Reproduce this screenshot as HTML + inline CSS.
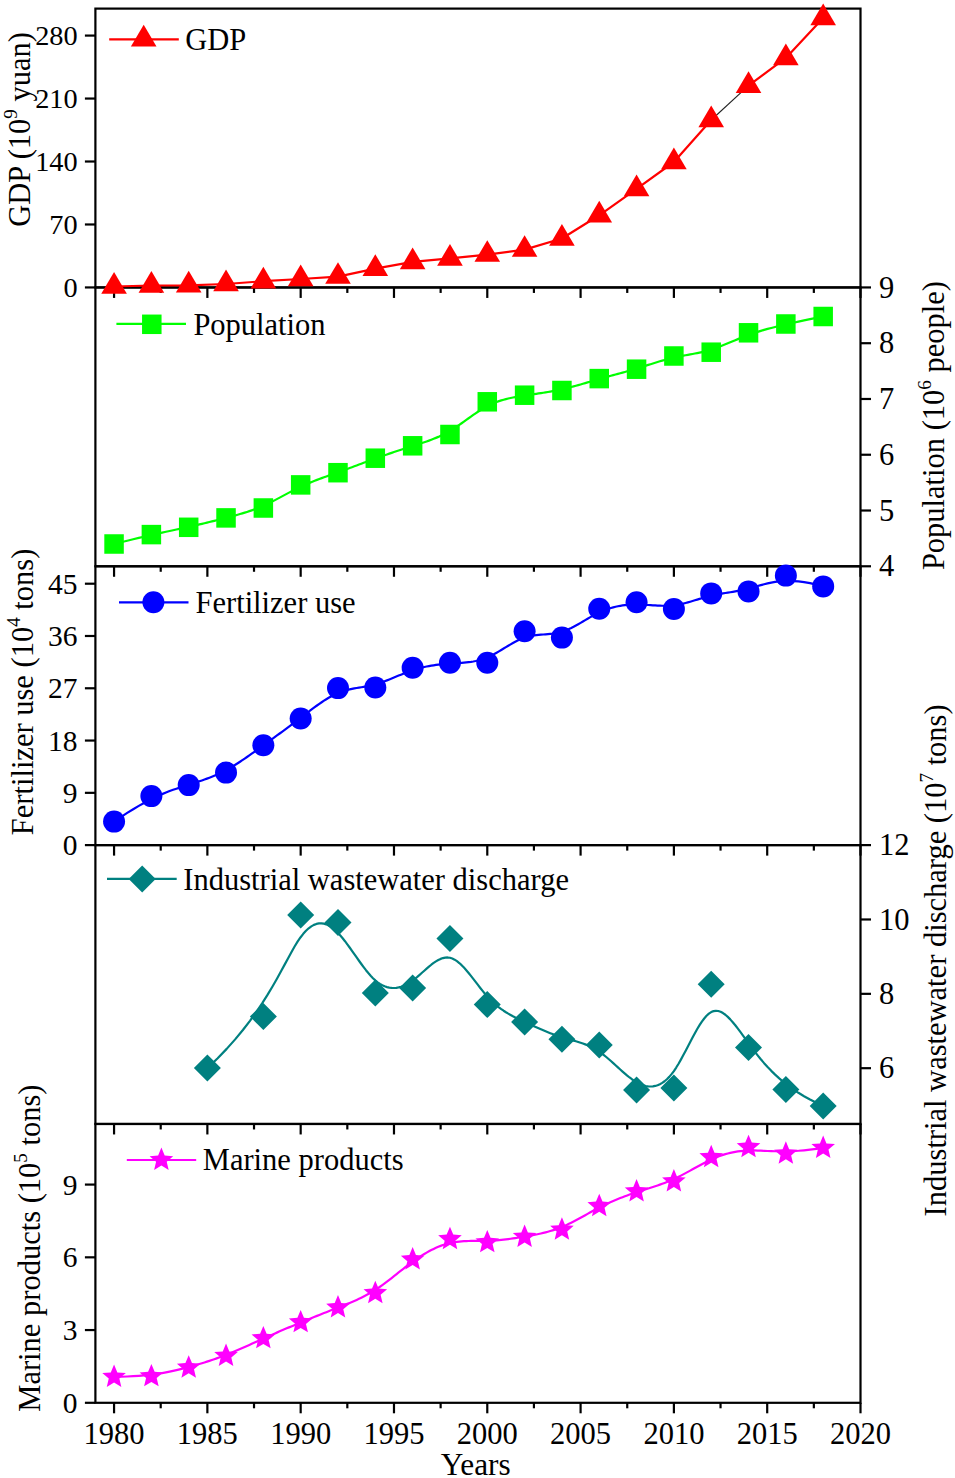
<!DOCTYPE html><html><head><meta charset="utf-8"><style>html,body{margin:0;padding:0;background:#fff;}svg{display:block;}text{font-family:"Liberation Serif", serif;}</style></head><body>
<svg width="955" height="1478" viewBox="0 0 955 1478">
<rect width="955" height="1478" fill="#fff"/>
<rect x="95.40" y="8.60" width="765.10" height="278.84" fill="none" stroke="#000" stroke-width="2.20"/>
<line x1="114.06" y1="287.44" x2="114.06" y2="297.94" stroke="#000" stroke-width="2.20"/>
<line x1="207.37" y1="287.44" x2="207.37" y2="297.94" stroke="#000" stroke-width="2.20"/>
<line x1="300.67" y1="287.44" x2="300.67" y2="297.94" stroke="#000" stroke-width="2.20"/>
<line x1="393.98" y1="287.44" x2="393.98" y2="297.94" stroke="#000" stroke-width="2.20"/>
<line x1="487.28" y1="287.44" x2="487.28" y2="297.94" stroke="#000" stroke-width="2.20"/>
<line x1="580.59" y1="287.44" x2="580.59" y2="297.94" stroke="#000" stroke-width="2.20"/>
<line x1="673.89" y1="287.44" x2="673.89" y2="297.94" stroke="#000" stroke-width="2.20"/>
<line x1="767.20" y1="287.44" x2="767.20" y2="297.94" stroke="#000" stroke-width="2.20"/>
<line x1="860.50" y1="287.44" x2="860.50" y2="297.94" stroke="#000" stroke-width="2.20"/>
<line x1="160.71" y1="287.44" x2="160.71" y2="292.94" stroke="#000" stroke-width="2.20"/>
<line x1="254.02" y1="287.44" x2="254.02" y2="292.94" stroke="#000" stroke-width="2.20"/>
<line x1="347.32" y1="287.44" x2="347.32" y2="292.94" stroke="#000" stroke-width="2.20"/>
<line x1="440.63" y1="287.44" x2="440.63" y2="292.94" stroke="#000" stroke-width="2.20"/>
<line x1="533.93" y1="287.44" x2="533.93" y2="292.94" stroke="#000" stroke-width="2.20"/>
<line x1="627.24" y1="287.44" x2="627.24" y2="292.94" stroke="#000" stroke-width="2.20"/>
<line x1="720.54" y1="287.44" x2="720.54" y2="292.94" stroke="#000" stroke-width="2.20"/>
<line x1="813.85" y1="287.44" x2="813.85" y2="292.94" stroke="#000" stroke-width="2.20"/>
<rect x="95.40" y="287.44" width="765.10" height="278.84" fill="none" stroke="#000" stroke-width="2.20"/>
<line x1="114.06" y1="566.28" x2="114.06" y2="576.78" stroke="#000" stroke-width="2.20"/>
<line x1="207.37" y1="566.28" x2="207.37" y2="576.78" stroke="#000" stroke-width="2.20"/>
<line x1="300.67" y1="566.28" x2="300.67" y2="576.78" stroke="#000" stroke-width="2.20"/>
<line x1="393.98" y1="566.28" x2="393.98" y2="576.78" stroke="#000" stroke-width="2.20"/>
<line x1="487.28" y1="566.28" x2="487.28" y2="576.78" stroke="#000" stroke-width="2.20"/>
<line x1="580.59" y1="566.28" x2="580.59" y2="576.78" stroke="#000" stroke-width="2.20"/>
<line x1="673.89" y1="566.28" x2="673.89" y2="576.78" stroke="#000" stroke-width="2.20"/>
<line x1="767.20" y1="566.28" x2="767.20" y2="576.78" stroke="#000" stroke-width="2.20"/>
<line x1="860.50" y1="566.28" x2="860.50" y2="576.78" stroke="#000" stroke-width="2.20"/>
<line x1="160.71" y1="566.28" x2="160.71" y2="571.78" stroke="#000" stroke-width="2.20"/>
<line x1="254.02" y1="566.28" x2="254.02" y2="571.78" stroke="#000" stroke-width="2.20"/>
<line x1="347.32" y1="566.28" x2="347.32" y2="571.78" stroke="#000" stroke-width="2.20"/>
<line x1="440.63" y1="566.28" x2="440.63" y2="571.78" stroke="#000" stroke-width="2.20"/>
<line x1="533.93" y1="566.28" x2="533.93" y2="571.78" stroke="#000" stroke-width="2.20"/>
<line x1="627.24" y1="566.28" x2="627.24" y2="571.78" stroke="#000" stroke-width="2.20"/>
<line x1="720.54" y1="566.28" x2="720.54" y2="571.78" stroke="#000" stroke-width="2.20"/>
<line x1="813.85" y1="566.28" x2="813.85" y2="571.78" stroke="#000" stroke-width="2.20"/>
<rect x="95.40" y="566.28" width="765.10" height="278.84" fill="none" stroke="#000" stroke-width="2.20"/>
<line x1="114.06" y1="845.12" x2="114.06" y2="855.62" stroke="#000" stroke-width="2.20"/>
<line x1="207.37" y1="845.12" x2="207.37" y2="855.62" stroke="#000" stroke-width="2.20"/>
<line x1="300.67" y1="845.12" x2="300.67" y2="855.62" stroke="#000" stroke-width="2.20"/>
<line x1="393.98" y1="845.12" x2="393.98" y2="855.62" stroke="#000" stroke-width="2.20"/>
<line x1="487.28" y1="845.12" x2="487.28" y2="855.62" stroke="#000" stroke-width="2.20"/>
<line x1="580.59" y1="845.12" x2="580.59" y2="855.62" stroke="#000" stroke-width="2.20"/>
<line x1="673.89" y1="845.12" x2="673.89" y2="855.62" stroke="#000" stroke-width="2.20"/>
<line x1="767.20" y1="845.12" x2="767.20" y2="855.62" stroke="#000" stroke-width="2.20"/>
<line x1="860.50" y1="845.12" x2="860.50" y2="855.62" stroke="#000" stroke-width="2.20"/>
<line x1="160.71" y1="845.12" x2="160.71" y2="850.62" stroke="#000" stroke-width="2.20"/>
<line x1="254.02" y1="845.12" x2="254.02" y2="850.62" stroke="#000" stroke-width="2.20"/>
<line x1="347.32" y1="845.12" x2="347.32" y2="850.62" stroke="#000" stroke-width="2.20"/>
<line x1="440.63" y1="845.12" x2="440.63" y2="850.62" stroke="#000" stroke-width="2.20"/>
<line x1="533.93" y1="845.12" x2="533.93" y2="850.62" stroke="#000" stroke-width="2.20"/>
<line x1="627.24" y1="845.12" x2="627.24" y2="850.62" stroke="#000" stroke-width="2.20"/>
<line x1="720.54" y1="845.12" x2="720.54" y2="850.62" stroke="#000" stroke-width="2.20"/>
<line x1="813.85" y1="845.12" x2="813.85" y2="850.62" stroke="#000" stroke-width="2.20"/>
<rect x="95.40" y="845.12" width="765.10" height="278.84" fill="none" stroke="#000" stroke-width="2.20"/>
<line x1="114.06" y1="1123.96" x2="114.06" y2="1134.46" stroke="#000" stroke-width="2.20"/>
<line x1="207.37" y1="1123.96" x2="207.37" y2="1134.46" stroke="#000" stroke-width="2.20"/>
<line x1="300.67" y1="1123.96" x2="300.67" y2="1134.46" stroke="#000" stroke-width="2.20"/>
<line x1="393.98" y1="1123.96" x2="393.98" y2="1134.46" stroke="#000" stroke-width="2.20"/>
<line x1="487.28" y1="1123.96" x2="487.28" y2="1134.46" stroke="#000" stroke-width="2.20"/>
<line x1="580.59" y1="1123.96" x2="580.59" y2="1134.46" stroke="#000" stroke-width="2.20"/>
<line x1="673.89" y1="1123.96" x2="673.89" y2="1134.46" stroke="#000" stroke-width="2.20"/>
<line x1="767.20" y1="1123.96" x2="767.20" y2="1134.46" stroke="#000" stroke-width="2.20"/>
<line x1="860.50" y1="1123.96" x2="860.50" y2="1134.46" stroke="#000" stroke-width="2.20"/>
<line x1="160.71" y1="1123.96" x2="160.71" y2="1129.46" stroke="#000" stroke-width="2.20"/>
<line x1="254.02" y1="1123.96" x2="254.02" y2="1129.46" stroke="#000" stroke-width="2.20"/>
<line x1="347.32" y1="1123.96" x2="347.32" y2="1129.46" stroke="#000" stroke-width="2.20"/>
<line x1="440.63" y1="1123.96" x2="440.63" y2="1129.46" stroke="#000" stroke-width="2.20"/>
<line x1="533.93" y1="1123.96" x2="533.93" y2="1129.46" stroke="#000" stroke-width="2.20"/>
<line x1="627.24" y1="1123.96" x2="627.24" y2="1129.46" stroke="#000" stroke-width="2.20"/>
<line x1="720.54" y1="1123.96" x2="720.54" y2="1129.46" stroke="#000" stroke-width="2.20"/>
<line x1="813.85" y1="1123.96" x2="813.85" y2="1129.46" stroke="#000" stroke-width="2.20"/>
<rect x="95.40" y="1123.96" width="765.10" height="278.84" fill="none" stroke="#000" stroke-width="2.20"/>
<line x1="114.06" y1="1402.80" x2="114.06" y2="1413.30" stroke="#000" stroke-width="2.20"/>
<line x1="207.37" y1="1402.80" x2="207.37" y2="1413.30" stroke="#000" stroke-width="2.20"/>
<line x1="300.67" y1="1402.80" x2="300.67" y2="1413.30" stroke="#000" stroke-width="2.20"/>
<line x1="393.98" y1="1402.80" x2="393.98" y2="1413.30" stroke="#000" stroke-width="2.20"/>
<line x1="487.28" y1="1402.80" x2="487.28" y2="1413.30" stroke="#000" stroke-width="2.20"/>
<line x1="580.59" y1="1402.80" x2="580.59" y2="1413.30" stroke="#000" stroke-width="2.20"/>
<line x1="673.89" y1="1402.80" x2="673.89" y2="1413.30" stroke="#000" stroke-width="2.20"/>
<line x1="767.20" y1="1402.80" x2="767.20" y2="1413.30" stroke="#000" stroke-width="2.20"/>
<line x1="860.50" y1="1402.80" x2="860.50" y2="1413.30" stroke="#000" stroke-width="2.20"/>
<line x1="160.71" y1="1402.80" x2="160.71" y2="1408.30" stroke="#000" stroke-width="2.20"/>
<line x1="254.02" y1="1402.80" x2="254.02" y2="1408.30" stroke="#000" stroke-width="2.20"/>
<line x1="347.32" y1="1402.80" x2="347.32" y2="1408.30" stroke="#000" stroke-width="2.20"/>
<line x1="440.63" y1="1402.80" x2="440.63" y2="1408.30" stroke="#000" stroke-width="2.20"/>
<line x1="533.93" y1="1402.80" x2="533.93" y2="1408.30" stroke="#000" stroke-width="2.20"/>
<line x1="627.24" y1="1402.80" x2="627.24" y2="1408.30" stroke="#000" stroke-width="2.20"/>
<line x1="720.54" y1="1402.80" x2="720.54" y2="1408.30" stroke="#000" stroke-width="2.20"/>
<line x1="813.85" y1="1402.80" x2="813.85" y2="1408.30" stroke="#000" stroke-width="2.20"/>
<line x1="84.90" y1="287.44" x2="95.40" y2="287.44" stroke="#000" stroke-width="2.20"/>
<text x="77.6" y="297.04" font-size="28.3" text-anchor="end">0</text>
<line x1="84.90" y1="224.48" x2="95.40" y2="224.48" stroke="#000" stroke-width="2.20"/>
<text x="77.6" y="234.08" font-size="28.3" text-anchor="end">70</text>
<line x1="84.90" y1="161.51" x2="95.40" y2="161.51" stroke="#000" stroke-width="2.20"/>
<text x="77.6" y="171.11" font-size="28.3" text-anchor="end">140</text>
<line x1="84.90" y1="98.55" x2="95.40" y2="98.55" stroke="#000" stroke-width="2.20"/>
<text x="77.6" y="108.15" font-size="28.3" text-anchor="end">210</text>
<line x1="84.90" y1="35.58" x2="95.40" y2="35.58" stroke="#000" stroke-width="2.20"/>
<text x="77.6" y="45.18" font-size="28.3" text-anchor="end">280</text>
<line x1="860.50" y1="566.28" x2="871.00" y2="566.28" stroke="#000" stroke-width="2.20"/>
<text x="879" y="576.38" font-size="30.5" text-anchor="start">4</text>
<line x1="860.50" y1="510.51" x2="871.00" y2="510.51" stroke="#000" stroke-width="2.20"/>
<text x="879" y="520.61" font-size="30.5" text-anchor="start">5</text>
<line x1="860.50" y1="454.74" x2="871.00" y2="454.74" stroke="#000" stroke-width="2.20"/>
<text x="879" y="464.84" font-size="30.5" text-anchor="start">6</text>
<line x1="860.50" y1="398.98" x2="871.00" y2="398.98" stroke="#000" stroke-width="2.20"/>
<text x="879" y="409.08" font-size="30.5" text-anchor="start">7</text>
<line x1="860.50" y1="343.21" x2="871.00" y2="343.21" stroke="#000" stroke-width="2.20"/>
<text x="879" y="353.31" font-size="30.5" text-anchor="start">8</text>
<line x1="860.50" y1="287.44" x2="871.00" y2="287.44" stroke="#000" stroke-width="2.20"/>
<text x="879" y="297.54" font-size="30.5" text-anchor="start">9</text>
<line x1="84.90" y1="845.12" x2="95.40" y2="845.12" stroke="#000" stroke-width="2.20"/>
<text x="77.6" y="855.12" font-size="29.5" text-anchor="end">0</text>
<line x1="84.90" y1="792.84" x2="95.40" y2="792.84" stroke="#000" stroke-width="2.20"/>
<text x="77.6" y="802.84" font-size="29.5" text-anchor="end">9</text>
<line x1="84.90" y1="740.55" x2="95.40" y2="740.55" stroke="#000" stroke-width="2.20"/>
<text x="77.6" y="750.55" font-size="29.5" text-anchor="end">18</text>
<line x1="84.90" y1="688.27" x2="95.40" y2="688.27" stroke="#000" stroke-width="2.20"/>
<text x="77.6" y="698.27" font-size="29.5" text-anchor="end">27</text>
<line x1="84.90" y1="635.99" x2="95.40" y2="635.99" stroke="#000" stroke-width="2.20"/>
<text x="77.6" y="645.99" font-size="29.5" text-anchor="end">36</text>
<line x1="84.90" y1="583.71" x2="95.40" y2="583.71" stroke="#000" stroke-width="2.20"/>
<text x="77.6" y="593.71" font-size="29.5" text-anchor="end">45</text>
<line x1="860.50" y1="1068.19" x2="871.00" y2="1068.19" stroke="#000" stroke-width="2.20"/>
<text x="879" y="1078.29" font-size="30.5" text-anchor="start">6</text>
<line x1="860.50" y1="993.83" x2="871.00" y2="993.83" stroke="#000" stroke-width="2.20"/>
<text x="879" y="1003.93" font-size="30.5" text-anchor="start">8</text>
<line x1="860.50" y1="919.48" x2="871.00" y2="919.48" stroke="#000" stroke-width="2.20"/>
<text x="879" y="929.58" font-size="30.5" text-anchor="start">10</text>
<line x1="860.50" y1="845.12" x2="871.00" y2="845.12" stroke="#000" stroke-width="2.20"/>
<text x="879" y="855.22" font-size="30.5" text-anchor="start">12</text>
<line x1="84.90" y1="1402.80" x2="95.40" y2="1402.80" stroke="#000" stroke-width="2.20"/>
<text x="77.6" y="1412.80" font-size="29.5" text-anchor="end">0</text>
<line x1="84.90" y1="1330.06" x2="95.40" y2="1330.06" stroke="#000" stroke-width="2.20"/>
<text x="77.6" y="1340.06" font-size="29.5" text-anchor="end">3</text>
<line x1="84.90" y1="1257.32" x2="95.40" y2="1257.32" stroke="#000" stroke-width="2.20"/>
<text x="77.6" y="1267.32" font-size="29.5" text-anchor="end">6</text>
<line x1="84.90" y1="1184.58" x2="95.40" y2="1184.58" stroke="#000" stroke-width="2.20"/>
<text x="77.6" y="1194.58" font-size="29.5" text-anchor="end">9</text>
<text x="114.06" y="1444" font-size="30.5" text-anchor="middle">1980</text>
<text x="207.37" y="1444" font-size="30.5" text-anchor="middle">1985</text>
<text x="300.67" y="1444" font-size="30.5" text-anchor="middle">1990</text>
<text x="393.98" y="1444" font-size="30.5" text-anchor="middle">1995</text>
<text x="487.28" y="1444" font-size="30.5" text-anchor="middle">2000</text>
<text x="580.59" y="1444" font-size="30.5" text-anchor="middle">2005</text>
<text x="673.89" y="1444" font-size="30.5" text-anchor="middle">2010</text>
<text x="767.20" y="1444" font-size="30.5" text-anchor="middle">2015</text>
<text x="860.50" y="1444" font-size="30.5" text-anchor="middle">2020</text>
<text x="475.8" y="1475" font-size="31.3" text-anchor="middle">Years</text>
<text transform="translate(30.00,226.80) rotate(-90)" font-size="30.5">GDP (10<tspan font-size="19" dy="-13">9</tspan><tspan dy="13"> yuan)</tspan></text>
<text transform="translate(944.00,570.10) rotate(-90)" font-size="30.5">Population (10<tspan font-size="19" dy="-13">6</tspan><tspan dy="13"> people)</tspan></text>
<text transform="translate(32.70,835.20) rotate(-90)" font-size="30.5">Fertilizer use (10<tspan font-size="19" dy="-13">4</tspan><tspan dy="13"> tons)</tspan></text>
<text transform="translate(946.00,1216.40) rotate(-90)" font-size="30.5">Industrial wastewater discharge (10<tspan font-size="19" dy="-13">7</tspan><tspan dy="13"> tons)</tspan></text>
<text transform="translate(40.30,1411.70) rotate(-90)" font-size="30.5">Marine products (10<tspan font-size="19" dy="-13">5</tspan><tspan dy="13"> tons)</tspan></text>
<path d="M114.06,286.50 L151.38,285.50 L188.70,285.30 L226.03,284.00 L263.35,281.20 L300.67,279.00 L337.99,276.60 L375.31,268.70 L412.64,261.90 L449.96,258.40 L487.28,254.60 L524.60,249.60 L561.92,238.50 L599.25,215.30 L636.57,188.90 L673.89,162.00 L711.21,120.00" fill="none" stroke="#ff0000" stroke-width="2.20" stroke-linejoin="round"/>
<path d="M748.53,85.70 L785.86,57.90 L823.18,18.00" fill="none" stroke="#ff0000" stroke-width="2.20" stroke-linejoin="round"/>
<line x1="711.21" y1="120.00" x2="748.53" y2="85.70" stroke="#222" stroke-width="1.1"/>
<path d="M114.06,272.03 L126.86,293.73 L101.26,293.73 Z" fill="#ff0000"/>
<path d="M151.38,271.03 L164.18,292.73 L138.58,292.73 Z" fill="#ff0000"/>
<path d="M188.70,270.83 L201.50,292.53 L175.90,292.53 Z" fill="#ff0000"/>
<path d="M226.03,269.53 L238.83,291.23 L213.23,291.23 Z" fill="#ff0000"/>
<path d="M263.35,266.73 L276.15,288.43 L250.55,288.43 Z" fill="#ff0000"/>
<path d="M300.67,264.53 L313.47,286.23 L287.87,286.23 Z" fill="#ff0000"/>
<path d="M337.99,262.13 L350.79,283.83 L325.19,283.83 Z" fill="#ff0000"/>
<path d="M375.31,254.23 L388.11,275.93 L362.51,275.93 Z" fill="#ff0000"/>
<path d="M412.64,247.43 L425.44,269.13 L399.84,269.13 Z" fill="#ff0000"/>
<path d="M449.96,243.93 L462.76,265.63 L437.16,265.63 Z" fill="#ff0000"/>
<path d="M487.28,240.13 L500.08,261.83 L474.48,261.83 Z" fill="#ff0000"/>
<path d="M524.60,235.13 L537.40,256.83 L511.80,256.83 Z" fill="#ff0000"/>
<path d="M561.92,224.03 L574.72,245.73 L549.12,245.73 Z" fill="#ff0000"/>
<path d="M599.25,200.83 L612.05,222.53 L586.45,222.53 Z" fill="#ff0000"/>
<path d="M636.57,174.43 L649.37,196.13 L623.77,196.13 Z" fill="#ff0000"/>
<path d="M673.89,147.53 L686.69,169.23 L661.09,169.23 Z" fill="#ff0000"/>
<path d="M711.21,105.53 L724.01,127.23 L698.41,127.23 Z" fill="#ff0000"/>
<path d="M748.53,71.23 L761.33,92.93 L735.73,92.93 Z" fill="#ff0000"/>
<path d="M785.86,43.43 L798.66,65.13 L773.06,65.13 Z" fill="#ff0000"/>
<path d="M823.18,3.53 L835.98,25.23 L810.38,25.23 Z" fill="#ff0000"/>
<path d="M114.06,544.00 L120.84,542.30 L127.21,540.73 L133.19,539.28 L138.80,537.94 L144.06,536.70 L149.00,535.56 L153.63,534.50 L157.99,533.53 L162.10,532.62 L165.97,531.77 L169.63,530.98 L173.11,530.24 L176.42,529.53 L179.59,528.85 L182.64,528.20 L185.59,527.56 L188.47,526.93 L191.29,526.30 L194.03,525.68 L196.72,525.06 L199.36,524.44 L201.94,523.83 L204.48,523.23 L206.98,522.62 L209.44,522.02 L211.87,521.42 L214.27,520.82 L216.65,520.22 L219.01,519.62 L221.36,519.02 L223.69,518.42 L226.03,517.82 L228.36,517.21 L230.69,516.60 L233.02,515.98 L235.36,515.36 L237.69,514.71 L240.02,514.05 L242.36,513.37 L244.69,512.66 L247.02,511.93 L249.35,511.17 L251.69,510.38 L254.02,509.55 L256.35,508.68 L258.68,507.76 L261.02,506.81 L263.35,505.80 L265.68,504.74 L268.01,503.64 L270.35,502.50 L272.68,501.33 L275.01,500.12 L277.34,498.90 L279.68,497.65 L282.01,496.40 L284.34,495.15 L286.67,493.89 L289.01,492.64 L291.34,491.41 L293.67,490.19 L296.01,489.00 L298.34,487.84 L300.67,486.72 L303.00,485.63 L305.34,484.59 L307.67,483.58 L310.00,482.61 L312.33,481.67 L314.67,480.75 L317.00,479.85 L319.33,478.98 L321.66,478.12 L324.00,477.28 L326.33,476.44 L328.66,475.62 L330.99,474.79 L333.33,473.97 L335.66,473.15 L337.99,472.32 L340.33,471.48 L342.66,470.63 L344.99,469.78 L347.32,468.92 L349.66,468.05 L351.99,467.19 L354.32,466.32 L356.65,465.45 L358.99,464.57 L361.32,463.70 L363.65,462.83 L365.98,461.97 L368.32,461.10 L370.65,460.25 L372.98,459.39 L375.31,458.55 L377.65,457.71 L379.98,456.88 L382.31,456.06 L384.65,455.25 L386.98,454.44 L389.31,453.65 L391.64,452.85 L393.98,452.07 L396.31,451.29 L398.64,450.51 L400.97,449.75 L403.31,448.98 L405.64,448.23 L407.97,447.47 L410.30,446.73 L412.64,445.98 L414.97,445.24 L417.30,444.50 L419.63,443.76 L421.97,443.00 L424.30,442.22 L426.63,441.42 L428.96,440.59 L431.30,439.73 L433.63,438.82 L435.96,437.88 L438.30,436.88 L440.63,435.82 L442.96,434.71 L445.29,433.52 L447.63,432.27 L449.96,430.93 L452.29,429.52 L454.62,428.03 L456.96,426.48 L459.29,424.89 L461.62,423.26 L463.95,421.60 L466.29,419.92 L468.62,418.25 L470.95,416.58 L473.28,414.94 L475.62,413.32 L477.95,411.75 L480.28,410.24 L482.62,408.79 L484.95,407.43 L487.28,406.15 L489.61,404.97 L491.95,403.89 L494.28,402.90 L496.61,401.99 L498.94,401.16 L501.28,400.40 L503.61,399.71 L505.94,399.08 L508.27,398.51 L510.61,397.98 L512.94,397.50 L515.27,397.05 L517.60,396.64 L519.94,396.25 L522.27,395.87 L524.60,395.52 L526.94,395.17 L529.27,394.82 L531.60,394.48 L533.93,394.14 L536.27,393.80 L538.60,393.45 L540.93,393.10 L543.26,392.74 L545.60,392.37 L547.93,391.99 L550.26,391.59 L552.59,391.17 L554.93,390.74 L557.26,390.28 L559.59,389.81 L561.92,389.30 L564.26,388.77 L566.59,388.21 L568.92,387.63 L571.25,387.03 L573.59,386.40 L575.92,385.77 L578.25,385.12 L580.59,384.45 L582.92,383.78 L585.25,383.10 L587.58,382.42 L589.92,381.73 L592.25,381.05 L594.58,380.36 L596.91,379.69 L599.25,379.02 L601.58,378.36 L603.91,377.70 L606.24,377.06 L608.58,376.42 L610.91,375.78 L613.24,375.14 L615.57,374.51 L617.91,373.87 L620.24,373.23 L622.57,372.59 L624.91,371.94 L627.24,371.29 L629.57,370.63 L631.90,369.95 L634.24,369.27 L636.57,368.57 L638.90,367.85 L641.23,367.13 L643.57,366.40 L645.90,365.66 L648.23,364.92 L650.56,364.18 L652.90,363.44 L655.23,362.72 L657.56,362.00 L659.89,361.30 L662.23,360.61 L664.56,359.95 L666.89,359.31 L669.23,358.70 L671.56,358.12 L673.89,357.57 L676.22,357.05 L678.56,356.57 L680.89,356.11 L683.22,355.67 L685.55,355.24 L687.89,354.82 L690.22,354.40 L692.55,353.97 L694.88,353.53 L697.22,353.07 L699.55,352.59 L701.88,352.08 L704.21,351.53 L706.55,350.94 L708.88,350.30 L711.21,349.60 L713.55,348.85 L715.88,348.04 L718.23,347.17 L720.59,346.27 L722.97,345.32 L725.37,344.34 L727.80,343.34 L730.26,342.30 L732.76,341.25 L735.30,340.19 L737.88,339.12 L740.52,338.05 L743.20,336.97 L745.95,335.91 L748.76,334.86 L751.64,333.83 L754.60,332.83 L757.65,331.84 L760.82,330.86 L764.13,329.89 L767.61,328.92 L771.27,327.94 L775.14,326.95 L779.25,325.94 L783.61,324.91 L788.24,323.85 L793.18,322.75 L798.44,321.61 L804.05,320.42 L810.03,319.18 L816.40,317.87 L823.18,316.50" fill="none" stroke="#00ff00" stroke-width="2.20" stroke-linejoin="round"/>
<rect x="104.31" y="534.25" width="19.50" height="19.50" fill="#00ff00"/>
<rect x="141.63" y="524.85" width="19.50" height="19.50" fill="#00ff00"/>
<rect x="178.95" y="517.55" width="19.50" height="19.50" fill="#00ff00"/>
<rect x="216.28" y="508.15" width="19.50" height="19.50" fill="#00ff00"/>
<rect x="253.60" y="498.25" width="19.50" height="19.50" fill="#00ff00"/>
<rect x="290.92" y="475.15" width="19.50" height="19.50" fill="#00ff00"/>
<rect x="328.24" y="462.95" width="19.50" height="19.50" fill="#00ff00"/>
<rect x="365.56" y="448.45" width="19.50" height="19.50" fill="#00ff00"/>
<rect x="402.89" y="436.05" width="19.50" height="19.50" fill="#00ff00"/>
<rect x="440.21" y="424.75" width="19.50" height="19.50" fill="#00ff00"/>
<rect x="477.53" y="392.05" width="19.50" height="19.50" fill="#00ff00"/>
<rect x="514.85" y="385.45" width="19.50" height="19.50" fill="#00ff00"/>
<rect x="552.17" y="380.75" width="19.50" height="19.50" fill="#00ff00"/>
<rect x="589.50" y="368.85" width="19.50" height="19.50" fill="#00ff00"/>
<rect x="626.82" y="359.45" width="19.50" height="19.50" fill="#00ff00"/>
<rect x="664.14" y="346.25" width="19.50" height="19.50" fill="#00ff00"/>
<rect x="701.46" y="342.45" width="19.50" height="19.50" fill="#00ff00"/>
<rect x="738.78" y="323.05" width="19.50" height="19.50" fill="#00ff00"/>
<rect x="776.11" y="314.25" width="19.50" height="19.50" fill="#00ff00"/>
<rect x="813.43" y="306.75" width="19.50" height="19.50" fill="#00ff00"/>
<path d="M114.06,821.60 L120.84,817.05 L127.21,812.94 L133.19,809.24 L138.80,805.92 L144.06,802.96 L149.00,800.33 L153.63,798.00 L157.99,795.93 L162.10,794.11 L165.97,792.50 L169.63,791.08 L173.11,789.82 L176.42,788.68 L179.59,787.65 L182.64,786.69 L185.59,785.77 L188.47,784.87 L191.29,783.98 L194.03,783.10 L196.72,782.22 L199.36,781.33 L201.94,780.44 L204.48,779.54 L206.98,778.62 L209.44,777.68 L211.87,776.72 L214.27,775.72 L216.65,774.69 L219.01,773.62 L221.36,772.50 L223.69,771.34 L226.03,770.12 L228.36,768.84 L230.69,767.51 L233.02,766.13 L235.36,764.70 L237.69,763.23 L240.02,761.72 L242.36,760.18 L244.69,758.60 L247.02,757.00 L249.35,755.37 L251.69,753.72 L254.02,752.06 L256.35,750.38 L258.68,748.70 L261.02,747.01 L263.35,745.32 L265.68,743.63 L268.01,741.94 L270.35,740.25 L272.68,738.56 L275.01,736.88 L277.34,735.18 L279.68,733.49 L282.01,731.79 L284.34,730.08 L286.67,728.37 L289.01,726.65 L291.34,724.92 L293.67,723.18 L296.01,721.42 L298.34,719.66 L300.67,717.88 L303.00,716.09 L305.34,714.30 L307.67,712.50 L310.00,710.72 L312.33,708.95 L314.67,707.21 L317.00,705.51 L319.33,703.84 L321.66,702.23 L324.00,700.68 L326.33,699.20 L328.66,697.79 L330.99,696.46 L333.33,695.23 L335.66,694.09 L337.99,693.07 L340.33,692.15 L342.66,691.35 L344.99,690.63 L347.32,690.00 L349.66,689.43 L351.99,688.92 L354.32,688.45 L356.65,688.02 L358.99,687.61 L361.32,687.21 L363.65,686.80 L365.98,686.38 L368.32,685.94 L370.65,685.45 L372.98,684.92 L375.31,684.32 L377.65,683.65 L379.98,682.91 L382.31,682.11 L384.65,681.27 L386.98,680.38 L389.31,679.46 L391.64,678.52 L393.98,677.56 L396.31,676.59 L398.64,675.61 L400.97,674.65 L403.31,673.70 L405.64,672.78 L407.97,671.89 L410.30,671.04 L412.64,670.23 L414.97,669.49 L417.30,668.79 L419.63,668.15 L421.97,667.56 L424.30,667.02 L426.63,666.53 L428.96,666.07 L431.30,665.66 L433.63,665.29 L435.96,664.95 L438.30,664.64 L440.63,664.37 L442.96,664.13 L445.29,663.91 L447.63,663.72 L449.96,663.55 L452.29,663.40 L454.62,663.26 L456.96,663.12 L459.29,662.98 L461.62,662.82 L463.95,662.63 L466.29,662.41 L468.62,662.15 L470.95,661.84 L473.28,661.47 L475.62,661.03 L477.95,660.51 L480.28,659.90 L482.62,659.20 L484.95,658.39 L487.28,657.47 L489.61,656.43 L491.95,655.28 L494.28,654.05 L496.61,652.74 L498.94,651.38 L501.28,649.98 L503.61,648.56 L505.94,647.13 L508.27,645.72 L510.61,644.33 L512.94,642.99 L515.27,641.72 L517.60,640.52 L519.94,639.42 L522.27,638.44 L524.60,637.58 L526.94,636.87 L529.27,636.29 L531.60,635.81 L533.93,635.43 L536.27,635.13 L538.60,634.89 L540.93,634.68 L543.26,634.50 L545.60,634.33 L547.93,634.14 L550.26,633.92 L552.59,633.65 L554.93,633.31 L557.26,632.89 L559.59,632.37 L561.92,631.73 L564.26,630.96 L566.59,630.06 L568.92,629.06 L571.25,627.96 L573.59,626.78 L575.92,625.53 L578.25,624.23 L580.59,622.89 L582.92,621.52 L585.25,620.14 L587.58,618.77 L589.92,617.42 L592.25,616.09 L594.58,614.81 L596.91,613.59 L599.25,612.45 L601.58,611.39 L603.91,610.42 L606.24,609.53 L608.58,608.72 L610.91,607.99 L613.24,607.33 L615.57,606.75 L617.91,606.24 L620.24,605.80 L622.57,605.43 L624.91,605.12 L627.24,604.88 L629.57,604.70 L631.90,604.57 L634.24,604.50 L636.57,604.48 L638.90,604.52 L641.23,604.59 L643.57,604.70 L645.90,604.84 L648.23,604.99 L650.56,605.15 L652.90,605.31 L655.23,605.46 L657.56,605.59 L659.89,605.70 L662.23,605.77 L664.56,605.79 L666.89,605.76 L669.23,605.68 L671.56,605.52 L673.89,605.28 L676.22,604.96 L678.56,604.56 L680.89,604.10 L683.22,603.57 L685.55,602.99 L687.89,602.36 L690.22,601.70 L692.55,601.02 L694.88,600.32 L697.22,599.61 L699.55,598.90 L701.88,598.20 L704.21,597.52 L706.55,596.86 L708.88,596.24 L711.21,595.67 L713.55,595.14 L715.88,594.66 L718.23,594.22 L720.59,593.80 L722.97,593.40 L725.37,593.01 L727.80,592.63 L730.26,592.23 L732.76,591.82 L735.30,591.39 L737.88,590.92 L740.52,590.41 L743.20,589.85 L745.95,589.23 L748.76,588.55 L751.64,587.78 L754.60,586.94 L757.65,586.05 L760.82,585.14 L764.13,584.24 L767.61,583.39 L771.27,582.62 L775.14,581.95 L779.25,581.44 L783.61,581.09 L788.24,580.96 L793.18,581.07 L798.44,581.46 L804.05,582.15 L810.03,583.18 L816.40,584.59 L823.18,586.40" fill="none" stroke="#0000ff" stroke-width="2.20" stroke-linejoin="round"/>
<circle cx="114.06" cy="821.60" r="11.00" fill="#0000ff"/>
<circle cx="151.38" cy="796.10" r="11.00" fill="#0000ff"/>
<circle cx="188.70" cy="785.10" r="11.00" fill="#0000ff"/>
<circle cx="226.03" cy="772.60" r="11.00" fill="#0000ff"/>
<circle cx="263.35" cy="745.20" r="11.00" fill="#0000ff"/>
<circle cx="300.67" cy="718.50" r="11.00" fill="#0000ff"/>
<circle cx="337.99" cy="688.10" r="11.00" fill="#0000ff"/>
<circle cx="375.31" cy="687.50" r="11.00" fill="#0000ff"/>
<circle cx="412.64" cy="667.80" r="11.00" fill="#0000ff"/>
<circle cx="449.96" cy="662.70" r="11.00" fill="#0000ff"/>
<circle cx="487.28" cy="662.70" r="11.00" fill="#0000ff"/>
<circle cx="524.60" cy="631.30" r="11.00" fill="#0000ff"/>
<circle cx="561.92" cy="637.60" r="11.00" fill="#0000ff"/>
<circle cx="599.25" cy="608.70" r="11.00" fill="#0000ff"/>
<circle cx="636.57" cy="602.30" r="11.00" fill="#0000ff"/>
<circle cx="673.89" cy="609.00" r="11.00" fill="#0000ff"/>
<circle cx="711.21" cy="593.40" r="11.00" fill="#0000ff"/>
<circle cx="748.53" cy="591.40" r="11.00" fill="#0000ff"/>
<circle cx="785.86" cy="575.60" r="11.00" fill="#0000ff"/>
<circle cx="823.18" cy="586.40" r="11.00" fill="#0000ff"/>
<path d="M207.37,1068.10 L217.43,1058.46 L226.68,1048.87 L235.15,1039.38 L242.89,1030.02 L249.96,1020.83 L256.41,1011.84 L262.28,1003.10 L267.63,994.64 L272.50,986.50 L276.95,978.73 L281.03,971.34 L284.78,964.39 L288.26,957.91 L291.52,951.95 L294.60,946.53 L297.56,941.69 L300.44,937.47 L303.25,933.85 L306.00,930.80 L308.69,928.31 L311.32,926.34 L313.91,924.89 L316.45,923.91 L318.94,923.39 L321.40,923.31 L323.83,923.64 L326.23,924.36 L328.61,925.44 L330.97,926.87 L333.32,928.61 L335.66,930.64 L337.99,932.95 L340.33,935.50 L342.66,938.27 L344.99,941.21 L347.32,944.30 L349.66,947.51 L351.99,950.79 L354.32,954.11 L356.65,957.44 L358.99,960.75 L361.32,964.01 L363.65,967.17 L365.98,970.20 L368.32,973.07 L370.65,975.75 L372.98,978.21 L375.31,980.40 L377.65,982.30 L379.98,983.92 L382.31,985.26 L384.65,986.32 L386.98,987.12 L389.31,987.66 L391.64,987.95 L393.98,988.00 L396.31,987.81 L398.64,987.40 L400.97,986.77 L403.31,985.92 L405.64,984.88 L407.97,983.63 L410.30,982.20 L412.64,980.58 L414.97,978.80 L417.30,976.88 L419.63,974.87 L421.97,972.80 L424.30,970.71 L426.63,968.64 L428.96,966.64 L431.30,964.73 L433.63,962.96 L435.96,961.38 L438.30,960.00 L440.63,958.89 L442.96,958.07 L445.29,957.58 L447.63,957.47 L449.96,957.77 L452.29,958.50 L454.62,959.65 L456.96,961.17 L459.29,963.03 L461.62,965.17 L463.95,967.56 L466.29,970.17 L468.62,972.94 L470.95,975.85 L473.28,978.84 L475.62,981.89 L477.95,984.94 L480.28,987.97 L482.62,990.93 L484.95,993.77 L487.28,996.47 L489.61,998.98 L491.95,1001.31 L494.28,1003.48 L496.61,1005.49 L498.94,1007.36 L501.28,1009.10 L503.61,1010.72 L505.94,1012.23 L508.27,1013.65 L510.61,1014.98 L512.94,1016.25 L515.27,1017.45 L517.60,1018.60 L519.94,1019.72 L522.27,1020.82 L524.60,1021.90 L526.94,1022.98 L529.27,1024.06 L531.60,1025.13 L533.93,1026.20 L536.27,1027.25 L538.60,1028.29 L540.93,1029.31 L543.26,1030.31 L545.60,1031.29 L547.93,1032.25 L550.26,1033.18 L552.59,1034.07 L554.93,1034.94 L557.26,1035.76 L559.59,1036.55 L561.92,1037.30 L564.26,1038.00 L566.59,1038.68 L568.92,1039.33 L571.25,1039.98 L573.59,1040.63 L575.92,1041.29 L578.25,1041.99 L580.59,1042.73 L582.92,1043.52 L585.25,1044.38 L587.58,1045.32 L589.92,1046.34 L592.25,1047.48 L594.58,1048.72 L596.91,1050.10 L599.25,1051.62 L601.58,1053.28 L603.91,1055.08 L606.24,1056.98 L608.58,1058.98 L610.91,1061.04 L613.24,1063.15 L615.57,1065.29 L617.91,1067.43 L620.24,1069.56 L622.57,1071.65 L624.91,1073.69 L627.24,1075.64 L629.57,1077.49 L631.90,1079.23 L634.24,1080.82 L636.57,1082.25 L638.90,1083.50 L641.23,1084.55 L643.57,1085.38 L645.90,1086.00 L648.23,1086.38 L650.56,1086.50 L652.90,1086.36 L655.23,1085.95 L657.56,1085.24 L659.89,1084.24 L662.23,1082.91 L664.56,1081.25 L666.89,1079.25 L669.23,1076.89 L671.56,1074.16 L673.89,1071.05 L676.22,1067.55 L678.56,1063.72 L680.89,1059.63 L683.22,1055.33 L685.55,1050.91 L687.89,1046.41 L690.22,1041.90 L692.55,1037.46 L694.88,1033.15 L697.22,1029.03 L699.55,1025.18 L701.88,1021.64 L704.21,1018.50 L706.55,1015.81 L708.88,1013.64 L711.21,1012.07 L713.55,1011.12 L715.88,1010.79 L718.23,1011.03 L720.59,1011.80 L722.97,1013.06 L725.37,1014.77 L727.80,1016.89 L730.26,1019.37 L732.76,1022.18 L735.30,1025.27 L737.88,1028.60 L740.52,1032.14 L743.20,1035.83 L745.95,1039.65 L748.76,1043.55 L751.64,1047.48 L754.60,1051.42 L757.65,1055.35 L760.82,1059.27 L764.13,1063.16 L767.61,1067.02 L771.27,1070.86 L775.14,1074.65 L779.25,1078.40 L783.61,1082.09 L788.24,1085.73 L793.18,1089.31 L798.44,1092.81 L804.05,1096.24 L810.03,1099.58 L816.40,1102.84 L823.18,1106.00" fill="none" stroke="#008080" stroke-width="2.20" stroke-linejoin="round"/>
<path d="M207.37,1054.60 L220.87,1068.10 L207.37,1081.60 L193.87,1068.10 Z" fill="#008080"/>
<path d="M263.35,1003.10 L276.85,1016.60 L263.35,1030.10 L249.85,1016.60 Z" fill="#008080"/>
<path d="M300.67,901.60 L314.17,915.10 L300.67,928.60 L287.17,915.10 Z" fill="#008080"/>
<path d="M337.99,908.90 L351.49,922.40 L337.99,935.90 L324.49,922.40 Z" fill="#008080"/>
<path d="M375.31,979.50 L388.81,993.00 L375.31,1006.50 L361.81,993.00 Z" fill="#008080"/>
<path d="M412.64,974.50 L426.14,988.00 L412.64,1001.50 L399.14,988.00 Z" fill="#008080"/>
<path d="M449.96,925.00 L463.46,938.50 L449.96,952.00 L436.46,938.50 Z" fill="#008080"/>
<path d="M487.28,991.10 L500.78,1004.60 L487.28,1018.10 L473.78,1004.60 Z" fill="#008080"/>
<path d="M524.60,1008.40 L538.10,1021.90 L524.60,1035.40 L511.10,1021.90 Z" fill="#008080"/>
<path d="M561.92,1025.70 L575.42,1039.20 L561.92,1052.70 L548.42,1039.20 Z" fill="#008080"/>
<path d="M599.25,1031.60 L612.75,1045.10 L599.25,1058.60 L585.75,1045.10 Z" fill="#008080"/>
<path d="M636.57,1076.60 L650.07,1090.10 L636.57,1103.60 L623.07,1090.10 Z" fill="#008080"/>
<path d="M673.89,1074.50 L687.39,1088.00 L673.89,1101.50 L660.39,1088.00 Z" fill="#008080"/>
<path d="M711.21,970.70 L724.71,984.20 L711.21,997.70 L697.71,984.20 Z" fill="#008080"/>
<path d="M748.53,1034.10 L762.03,1047.60 L748.53,1061.10 L735.03,1047.60 Z" fill="#008080"/>
<path d="M785.86,1075.90 L799.36,1089.40 L785.86,1102.90 L772.36,1089.40 Z" fill="#008080"/>
<path d="M823.18,1092.50 L836.68,1106.00 L823.18,1119.50 L809.68,1106.00 Z" fill="#008080"/>
<path d="M114.06,1376.90 L120.84,1376.74 L127.21,1376.51 L133.19,1376.19 L138.80,1375.81 L144.06,1375.36 L149.00,1374.85 L153.63,1374.29 L157.99,1373.68 L162.10,1373.04 L165.97,1372.35 L169.63,1371.64 L173.11,1370.90 L176.42,1370.14 L179.59,1369.37 L182.64,1368.60 L185.59,1367.82 L188.47,1367.05 L191.29,1366.29 L194.03,1365.52 L196.72,1364.75 L199.36,1363.99 L201.94,1363.22 L204.48,1362.44 L206.98,1361.66 L209.44,1360.86 L211.87,1360.06 L214.27,1359.24 L216.65,1358.41 L219.01,1357.57 L221.36,1356.70 L223.69,1355.82 L226.03,1354.92 L228.36,1353.99 L230.69,1353.04 L233.02,1352.07 L235.36,1351.09 L237.69,1350.09 L240.02,1349.07 L242.36,1348.05 L244.69,1347.01 L247.02,1345.97 L249.35,1344.91 L251.69,1343.86 L254.02,1342.80 L256.35,1341.74 L258.68,1340.68 L261.02,1339.62 L263.35,1338.57 L265.68,1337.52 L268.01,1336.48 L270.35,1335.44 L272.68,1334.42 L275.01,1333.39 L277.34,1332.38 L279.68,1331.36 L282.01,1330.36 L284.34,1329.36 L286.67,1328.36 L289.01,1327.37 L291.34,1326.39 L293.67,1325.41 L296.01,1324.43 L298.34,1323.46 L300.67,1322.50 L303.00,1321.54 L305.34,1320.58 L307.67,1319.63 L310.00,1318.69 L312.33,1317.74 L314.67,1316.80 L317.00,1315.87 L319.33,1314.93 L321.66,1314.00 L324.00,1313.08 L326.33,1312.15 L328.66,1311.23 L330.99,1310.31 L333.33,1309.40 L335.66,1308.48 L337.99,1307.57 L340.33,1306.65 L342.66,1305.74 L344.99,1304.81 L347.32,1303.88 L349.66,1302.92 L351.99,1301.95 L354.32,1300.94 L356.65,1299.91 L358.99,1298.84 L361.32,1297.72 L363.65,1296.56 L365.98,1295.35 L368.32,1294.08 L370.65,1292.76 L372.98,1291.36 L375.31,1289.90 L377.65,1288.36 L379.98,1286.76 L382.31,1285.10 L384.65,1283.38 L386.98,1281.63 L389.31,1279.83 L391.64,1278.01 L393.98,1276.18 L396.31,1274.32 L398.64,1272.47 L400.97,1270.62 L403.31,1268.78 L405.64,1266.96 L407.97,1265.17 L410.30,1263.41 L412.64,1261.70 L414.97,1260.04 L417.30,1258.43 L419.63,1256.88 L421.97,1255.39 L424.30,1253.96 L426.63,1252.59 L428.96,1251.30 L431.30,1250.07 L433.63,1248.91 L435.96,1247.83 L438.30,1246.82 L440.63,1245.89 L442.96,1245.05 L445.29,1244.29 L447.63,1243.62 L449.96,1243.03 L452.29,1242.54 L454.62,1242.13 L456.96,1241.80 L459.29,1241.54 L461.62,1241.33 L463.95,1241.18 L466.29,1241.08 L468.62,1241.01 L470.95,1240.97 L473.28,1240.96 L475.62,1240.95 L477.95,1240.96 L480.28,1240.96 L482.62,1240.95 L484.95,1240.92 L487.28,1240.87 L489.61,1240.78 L491.95,1240.66 L494.28,1240.52 L496.61,1240.34 L498.94,1240.14 L501.28,1239.91 L503.61,1239.66 L505.94,1239.38 L508.27,1239.09 L510.61,1238.78 L512.94,1238.45 L515.27,1238.10 L517.60,1237.74 L519.94,1237.37 L522.27,1236.99 L524.60,1236.60 L526.94,1236.20 L529.27,1235.79 L531.60,1235.37 L533.93,1234.93 L536.27,1234.47 L538.60,1233.98 L540.93,1233.47 L543.26,1232.92 L545.60,1232.34 L547.93,1231.72 L550.26,1231.05 L552.59,1230.34 L554.93,1229.58 L557.26,1228.77 L559.59,1227.90 L561.92,1226.97 L564.26,1225.97 L566.59,1224.92 L568.92,1223.82 L571.25,1222.67 L573.59,1221.48 L575.92,1220.26 L578.25,1219.01 L580.59,1217.74 L582.92,1216.46 L585.25,1215.17 L587.58,1213.87 L589.92,1212.58 L592.25,1211.30 L594.58,1210.04 L596.91,1208.80 L599.25,1207.58 L601.58,1206.40 L603.91,1205.26 L606.24,1204.14 L608.58,1203.06 L610.91,1202.01 L613.24,1200.99 L615.57,1200.00 L617.91,1199.03 L620.24,1198.09 L622.57,1197.18 L624.91,1196.29 L627.24,1195.43 L629.57,1194.59 L631.90,1193.77 L634.24,1192.96 L636.57,1192.18 L638.90,1191.42 L641.23,1190.67 L643.57,1189.93 L645.90,1189.19 L648.23,1188.46 L650.56,1187.72 L652.90,1186.97 L655.23,1186.20 L657.56,1185.42 L659.89,1184.61 L662.23,1183.78 L664.56,1182.91 L666.89,1182.01 L669.23,1181.07 L671.56,1180.08 L673.89,1179.03 L676.22,1177.94 L678.56,1176.79 L680.89,1175.61 L683.22,1174.39 L685.55,1173.14 L687.89,1171.87 L690.22,1170.59 L692.55,1169.30 L694.88,1168.01 L697.22,1166.72 L699.55,1165.45 L701.88,1164.20 L704.21,1162.98 L706.55,1161.79 L708.88,1160.65 L711.21,1159.55 L713.55,1158.51 L715.88,1157.52 L718.23,1156.59 L720.59,1155.72 L722.97,1154.91 L725.37,1154.16 L727.80,1153.48 L730.26,1152.86 L732.76,1152.31 L735.30,1151.83 L737.88,1151.41 L740.52,1151.07 L743.20,1150.80 L745.95,1150.60 L748.76,1150.48 L751.64,1150.43 L754.60,1150.46 L757.65,1150.55 L760.82,1150.68 L764.13,1150.84 L767.61,1151.00 L771.27,1151.15 L775.14,1151.26 L779.25,1151.33 L783.61,1151.33 L788.24,1151.24 L793.18,1151.05 L798.44,1150.74 L804.05,1150.28 L810.03,1149.67 L816.40,1148.88 L823.18,1147.90" fill="none" stroke="#ff00ff" stroke-width="2.20" stroke-linejoin="round"/>
<path d="M114.06,1364.50 L117.34,1372.39 L125.85,1373.07 L119.37,1378.62 L121.35,1386.93 L114.06,1382.48 L106.77,1386.93 L108.75,1378.62 L102.27,1373.07 L110.78,1372.39 Z" fill="#ff00ff"/>
<path d="M151.38,1363.90 L154.66,1371.79 L163.18,1372.47 L156.69,1378.02 L158.67,1386.33 L151.38,1381.88 L144.09,1386.33 L146.08,1378.02 L139.59,1372.47 L148.10,1371.79 Z" fill="#ff00ff"/>
<path d="M188.70,1355.20 L191.98,1363.09 L200.50,1363.77 L194.01,1369.32 L195.99,1377.63 L188.70,1373.18 L181.42,1377.63 L183.40,1369.32 L176.91,1363.77 L185.43,1363.09 Z" fill="#ff00ff"/>
<path d="M226.03,1343.50 L229.31,1351.39 L237.82,1352.07 L231.33,1357.62 L233.32,1365.93 L226.03,1361.48 L218.74,1365.93 L220.72,1357.62 L214.23,1352.07 L222.75,1351.39 Z" fill="#ff00ff"/>
<path d="M263.35,1325.90 L266.63,1333.79 L275.14,1334.47 L268.66,1340.02 L270.64,1348.33 L263.35,1343.88 L256.06,1348.33 L258.04,1340.02 L251.56,1334.47 L260.07,1333.79 Z" fill="#ff00ff"/>
<path d="M300.67,1309.90 L303.95,1317.79 L312.46,1318.47 L305.98,1324.02 L307.96,1332.33 L300.67,1327.88 L293.38,1332.33 L295.36,1324.02 L288.88,1318.47 L297.39,1317.79 Z" fill="#ff00ff"/>
<path d="M337.99,1295.10 L341.27,1302.99 L349.79,1303.67 L343.30,1309.22 L345.28,1317.53 L337.99,1313.08 L330.70,1317.53 L332.69,1309.22 L326.20,1303.67 L334.71,1302.99 Z" fill="#ff00ff"/>
<path d="M375.31,1280.70 L378.59,1288.59 L387.11,1289.27 L380.62,1294.82 L382.60,1303.13 L375.31,1298.68 L368.03,1303.13 L370.01,1294.82 L363.52,1289.27 L372.03,1288.59 Z" fill="#ff00ff"/>
<path d="M412.64,1247.10 L415.92,1254.99 L424.43,1255.67 L417.94,1261.22 L419.93,1269.53 L412.64,1265.08 L405.35,1269.53 L407.33,1261.22 L400.84,1255.67 L409.36,1254.99 Z" fill="#ff00ff"/>
<path d="M449.96,1226.70 L453.24,1234.59 L461.75,1235.27 L455.27,1240.82 L457.25,1249.13 L449.96,1244.68 L442.67,1249.13 L444.65,1240.82 L438.17,1235.27 L446.68,1234.59 Z" fill="#ff00ff"/>
<path d="M487.28,1229.90 L490.56,1237.79 L499.07,1238.47 L492.59,1244.02 L494.57,1252.33 L487.28,1247.88 L479.99,1252.33 L481.97,1244.02 L475.49,1238.47 L484.00,1237.79 Z" fill="#ff00ff"/>
<path d="M524.60,1224.50 L527.88,1232.39 L536.40,1233.07 L529.91,1238.62 L531.89,1246.93 L524.60,1242.48 L517.31,1246.93 L519.30,1238.62 L512.81,1233.07 L521.32,1232.39 Z" fill="#ff00ff"/>
<path d="M561.92,1217.30 L565.20,1225.19 L573.72,1225.87 L567.23,1231.42 L569.21,1239.73 L561.92,1235.28 L554.64,1239.73 L556.62,1231.42 L550.13,1225.87 L558.64,1225.19 Z" fill="#ff00ff"/>
<path d="M599.25,1193.70 L602.53,1201.59 L611.04,1202.27 L604.55,1207.82 L606.53,1216.13 L599.25,1211.68 L591.96,1216.13 L593.94,1207.82 L587.45,1202.27 L595.97,1201.59 Z" fill="#ff00ff"/>
<path d="M636.57,1179.00 L639.85,1186.89 L648.36,1187.57 L641.88,1193.12 L643.86,1201.43 L636.57,1196.98 L629.28,1201.43 L631.26,1193.12 L624.78,1187.57 L633.29,1186.89 Z" fill="#ff00ff"/>
<path d="M673.89,1169.00 L677.17,1176.89 L685.68,1177.57 L679.20,1183.12 L681.18,1191.43 L673.89,1186.98 L666.60,1191.43 L668.58,1183.12 L662.10,1177.57 L670.61,1176.89 Z" fill="#ff00ff"/>
<path d="M711.21,1144.80 L714.49,1152.69 L723.01,1153.37 L716.52,1158.92 L718.50,1167.23 L711.21,1162.78 L703.92,1167.23 L705.91,1158.92 L699.42,1153.37 L707.93,1152.69 Z" fill="#ff00ff"/>
<path d="M748.53,1134.70 L751.81,1142.59 L760.33,1143.27 L753.84,1148.82 L755.82,1157.13 L748.53,1152.68 L741.25,1157.13 L743.23,1148.82 L736.74,1143.27 L745.25,1142.59 Z" fill="#ff00ff"/>
<path d="M785.86,1141.30 L789.14,1149.19 L797.65,1149.87 L791.16,1155.42 L793.14,1163.73 L785.86,1159.28 L778.57,1163.73 L780.55,1155.42 L774.06,1149.87 L782.58,1149.19 Z" fill="#ff00ff"/>
<path d="M823.18,1135.50 L826.46,1143.39 L834.97,1144.07 L828.48,1149.62 L830.47,1157.93 L823.18,1153.48 L815.89,1157.93 L817.87,1149.62 L811.38,1144.07 L819.90,1143.39 Z" fill="#ff00ff"/>
<line x1="109.20" y1="39.30" x2="178.80" y2="39.30" stroke="#ff0000" stroke-width="2.2"/>
<path d="M143.70,24.83 L156.50,46.53 L130.90,46.53 Z" fill="#ff0000"/>
<text x="185.20" y="49.70" font-size="30.5">GDP</text>
<line x1="116.40" y1="323.90" x2="186.00" y2="323.90" stroke="#00ff00" stroke-width="2.2"/>
<rect x="142.05" y="314.55" width="19.50" height="19.50" fill="#00ff00"/>
<text x="193.40" y="334.70" font-size="30.5">Population</text>
<line x1="119.00" y1="602.30" x2="188.50" y2="602.30" stroke="#0000ff" stroke-width="2.2"/>
<circle cx="153.40" cy="602.30" r="11.00" fill="#0000ff"/>
<text x="195.50" y="612.50" font-size="30.5">Fertilizer use</text>
<line x1="107.00" y1="878.90" x2="176.70" y2="878.90" stroke="#008080" stroke-width="2.2"/>
<path d="M142.20,865.60 L155.70,879.10 L142.20,892.60 L128.70,879.10 Z" fill="#008080"/>
<text x="183.30" y="889.50" font-size="30.5">Industrial wastewater discharge</text>
<line x1="126.80" y1="1160.00" x2="196.20" y2="1160.00" stroke="#ff00ff" stroke-width="2.2"/>
<path d="M161.40,1147.60 L164.68,1155.49 L173.19,1156.17 L166.71,1161.72 L168.69,1170.03 L161.40,1165.58 L154.11,1170.03 L156.09,1161.72 L149.61,1156.17 L158.12,1155.49 Z" fill="#ff00ff"/>
<text x="202.80" y="1170.20" font-size="30.5">Marine products</text>
</svg></body></html>
